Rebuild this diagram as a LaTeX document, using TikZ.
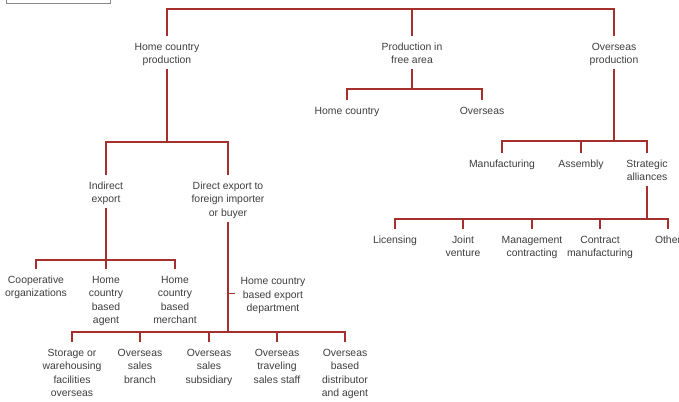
\documentclass[tikz,border=0pt]{standalone}
\usepackage{fontspec}
\setmainfont{Liberation Sans}
\definecolor{lnred}{HTML}{A3302C}
\definecolor{txtgray}{HTML}{3E3E3E}
\definecolor{boxgray}{HTML}{8A8A8A}
\newcommand\lblfont{\fontsize{10.4}{13.5}\selectfont}
\newcommand\ts{\rule{0pt}{14.5pt}}
\newcommand\botst{\rule[-5pt]{0pt}{5pt}}
\tikzset{
  lbl/.style={align=center, anchor=north, inner xsep=2pt, inner ysep=0pt,
    font=\lblfont, text=txtgray, execute at end node=\botst},
  conn/.style={draw=lnred, line width=1.5pt, line join=miter, line cap=butt}
}
\begin{document}
\begin{tikzpicture}[x=1pt,y=-1pt]
\useasboundingbox (0,0) rectangle (679,401);
\clip (0,0) rectangle (679,401);
\fill[white] (0,0) rectangle (679,401);
% cropped box at top left
\draw[boxgray, line width=0.8pt] (6,-4) rectangle (110,3);

% level 1
\node[lbl] (hcp) at (167,35.7) {\ts Home country\\production};
\node[lbl] (fap) at (412,35.7) {\ts Production in\\free area};
\node[lbl] (osp) at (614,35.7) {\ts Overseas\\production};
% free area children
\node[lbl] (hc) at (347,99.7) {\ts Home country};
\node[lbl] (os) at (482,99.7) {\ts Overseas};
% home production children
\node[lbl] (ind) at (106,174.7) {\ts Indirect\\export};
\node[lbl] (dir) at (228,174.7) {\ts Direct export to\\foreign importer\\or buyer};
% overseas production children
\node[lbl] (man) at (502,152.7) {\ts Manufacturing};
\node[lbl] (ass) at (581,152.7) {\ts Assembly};
\node[lbl] (sa) at (647,152.7) {\ts Strategic\\alliances};
% strategic alliances children
\node[lbl] (lic) at (395,228.7) {\ts Licensing};
\node[lbl] (jv) at (463,228.7) {\ts Joint\\venture};
\node[lbl] (mc) at (532,228.7) {\ts Management\\contracting};
\node[lbl] (cm) at (600,228.7) {\ts Contract\\manufacturing};
\node[lbl] (oth) at (668,228.7) {\ts Other};
% indirect export children
\node[lbl] (coop) at (36,268.7) {\ts Cooperative\\organizations};
\node[lbl] (hcba) at (106,268.7) {\ts Home\\country\\based\\agent};
\node[lbl] (hcbm) at (175,268.7) {\ts Home\\country\\based\\merchant};
% direct export children
\node[lbl, inner xsep=5.5pt] (hcbed) at (273,270.2) {\ts Home country\\based export\\department};
\node[lbl] (st) at (72,341.7) {\ts Storage or\\warehousing\\facilities\\overseas};
\node[lbl] (osb) at (140,341.7) {\ts Overseas\\sales\\branch};
\node[lbl] (oss) at (209,341.7) {\ts Overseas\\sales\\subsidiary};
\node[lbl] (ots) at (277,341.7) {\ts Overseas\\traveling\\sales staff};
\node[lbl] (obd) at (345,341.7) {\ts Overseas\\based\\distributor\\and agent};

% bar coordinates
\coordinate (tb) at (412,9);
\coordinate (fb) at (412,89);
\coordinate (hb) at (167,142);
\coordinate (ob) at (614,141);
\coordinate (sb) at (647,219);
\coordinate (ib) at (106,260);
\coordinate (db) at (228,332);

% top level
\draw[conn] (hcp.north) -- (hcp.north |- tb) -- (osp.north |- tb) -- (osp.north);
\draw[conn] (fap.north) -- (fap.north |- tb);
% free area
\draw[conn] (fap.south) -- (fap.south |- fb);
\draw[conn] (hc.north) -- (hc.north |- fb) -- (os.north |- fb) -- (os.north);
% home country production
\draw[conn] (hcp.south) -- (hcp.south |- hb);
\draw[conn] (ind.north) -- (ind.north |- hb) -- (dir.north |- hb) -- (dir.north);
% overseas production
\draw[conn] (osp.south) -- (osp.south |- ob);
\draw[conn] (man.north) -- (man.north |- ob) -- (sa.north |- ob) -- (sa.north);
\draw[conn] (ass.north) -- (ass.north |- ob);
% strategic alliances
\draw[conn] (sa.south) -- (sa.south |- sb);
\draw[conn] (lic.north) -- (lic.north |- sb) -- (oth.north |- sb) -- (oth.north);
\draw[conn] (jv.north) -- (jv.north |- sb);
\draw[conn] (mc.north) -- (mc.north |- sb);
\draw[conn] (cm.north) -- (cm.north |- sb);
% indirect export
\draw[conn] (ind.south) -- (ind.south |- ib);
\draw[conn] (coop.north) -- (coop.north |- ib) -- (hcbm.north |- ib) -- (hcbm.north);
\draw[conn] (hcba.north) -- (hcba.north |- ib);
% direct export
\draw[conn] (dir.south) -- (dir.south |- db);
\draw[conn] (hcbed.west) -- (hcbed.west -| dir.south);
\draw[conn] (st.north) -- (st.north |- db) -- (obd.north |- db) -- (obd.north);
\draw[conn] (osb.north) -- (osb.north |- db);
\draw[conn] (oss.north) -- (oss.north |- db);
\draw[conn] (ots.north) -- (ots.north |- db);
\end{tikzpicture}
\end{document}
